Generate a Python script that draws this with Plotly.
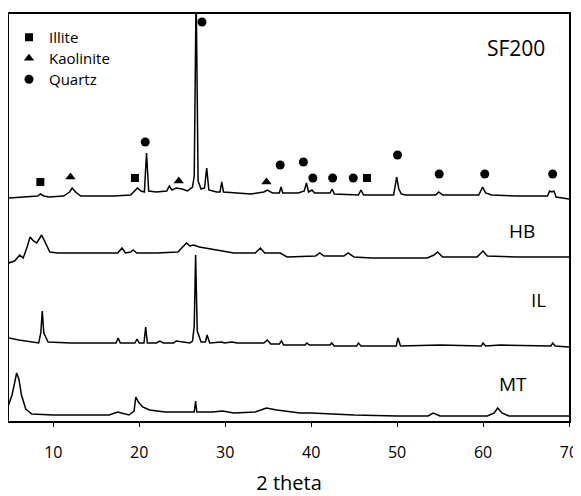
import plotly.graph_objects as go

# ---- data (2theta, intensity in arbitrary stacked units) ----
sf200_x = [4.8, 7.5, 8.2, 8.5, 8.9, 9.5, 11.2, 11.9, 12.2, 12.6, 13.2, 15, 17, 19.0, 19.6, 19.8, 20.2, 20.6, 20.85, 21.1,
           22, 23.2, 23.5, 23.8, 24.3, 25.0, 25.6, 26.2, 26.4, 26.62, 26.85, 27.2, 27.6, 27.85, 28.1, 29.0, 29.4, 29.6, 29.8,
           31, 33, 34.5, 34.9, 35.5, 36.3, 36.5, 36.7, 38.5, 39.2, 39.45, 39.7, 40.1, 40.4, 42.2, 42.45, 42.7, 45.5, 45.8,
           46.1, 49.6, 49.95, 50.2, 50.5, 51, 54.5, 54.85, 55.3, 59.5, 59.95, 60.3, 61, 64, 67.5, 67.75, 68.0, 68.25, 68.5, 70]
sf200_y = [223, 224, 225, 227, 225, 224, 225, 229, 233, 229, 225, 225, 225, 226, 232, 233, 230, 229, 268, 230,
           229, 230, 235, 231, 233, 232, 230, 234, 245, 430, 240, 232, 233, 253, 231, 229, 229, 239, 229,
           228, 227, 229, 231, 228, 228, 234, 228, 228, 230, 238, 229, 231, 228, 228, 232, 227, 226, 231,
           226, 226, 244, 232, 227, 226, 226, 229, 226, 226, 234, 228, 226, 225, 225, 230, 229, 230, 224, 222]

hb_x = [4.8, 5.5, 6.1, 6.5, 7.0, 7.3, 7.7, 8.07, 8.65, 9.1, 9.6, 10.5, 14, 17.5, 18.0, 18.4, 19.0, 19.3, 19.7, 22,
        24.5, 25.2, 25.5, 25.9, 26.3, 27, 29, 31, 33.5, 34.1, 34.6, 36.4, 37.2, 40.5, 41.0, 41.5, 43.8, 44.3, 45,
        47, 53.5, 54.3, 54.7, 55.3, 59.3, 60.0, 60.5, 64, 70]
hb_y = [158, 160, 166, 163, 175, 184, 180, 178, 186, 178, 169, 168, 168, 168, 173, 168, 169, 171, 168, 168,
        169, 175, 178, 175, 176, 174, 171, 168, 168, 173, 168, 168, 164, 165, 168, 165, 165, 168, 164,
        163, 163, 166, 169, 164, 164, 170, 165, 164, 164]

il_x = [4.8, 6, 8.3, 8.55, 8.72, 8.9, 9.4, 12, 17.3, 17.55, 17.8, 19.5, 19.75, 20.0, 20.55, 20.75, 20.95, 22, 22.4, 22.8,
        24.0, 24.3, 25.9, 26.2, 26.4, 26.56, 26.75, 27.2, 27.7, 27.9, 28.2, 29.6, 29.9, 30.8, 31.4, 34.5, 34.9, 35.3,
        36.3, 36.55, 36.8, 39.3, 39.5, 39.8, 42.2, 42.4, 42.7, 45.3, 45.5, 45.8, 49.9, 50.1, 50.4, 55.0, 59.8, 60.0,
        60.3, 62.0, 67.9, 68.1, 68.4, 70]
il_y = [83, 81, 78, 88, 110, 88, 79, 78, 78, 83, 78, 78, 82, 78, 78, 94, 78, 78, 80, 78,
        78, 80, 78, 80, 95, 166, 90, 79, 79, 86, 78, 79, 78, 79, 78, 78, 81, 77,
        77, 80, 76, 76, 78, 76, 76, 78, 75, 75, 78, 75, 75, 83, 75, 76, 75, 78,
        75, 76, 75, 78, 75, 74]

mt_x = [4.8, 5.2, 5.5, 5.74, 6.0, 6.3, 6.8, 7.5, 10, 16.5, 17.5, 18.3, 18.8, 19.4, 19.6, 19.9, 20.4, 21.2, 23, 26.4,
        26.56, 26.7, 28.5, 29.7, 31, 33.5, 34.4, 34.8, 36, 38.7, 40, 45, 50, 53.6, 54.2, 55, 60.5, 61.3, 61.7,
        62.2, 63, 70]
mt_y = [16, 26, 38, 48, 42, 26, 12, 7, 6, 6, 9, 7, 6, 10, 24, 19, 14, 11, 9, 9,
        20, 9, 9, 10, 8, 9, 12, 13, 11, 8, 8, 6, 5, 5, 8, 5, 5, 8, 13,
        8, 5, 5]

# phase markers on SF200
illite_x = [8.5, 19.5, 46.5]
illite_y = [239, 243, 243]
kaolinite_x = [12.0, 24.6, 34.8]
kaolinite_y = [244, 240, 239]
quartz_x = [20.7, 27.3, 36.4, 39.1, 40.2, 42.5, 44.9, 50.05, 54.9, 60.2, 68.1]
quartz_y = [279, 399, 256, 259, 243, 243, 243, 266, 247, 247, 247]

sample_labels = ["SF200", "HB", "IL", "MT"]
label_x = [67.4, 66.3, 67.5, 65.4]
label_y = [373, 190, 121, 37]
label_size = [21, 19, 19, 19]

x_ticks = [10, 20, 30, 40, 50, 60, 70]

FONT = "Open Sans"
fig = go.Figure()
for xs, ys in [(sf200_x, sf200_y), (hb_x, hb_y), (il_x, il_y), (mt_x, mt_y)]:
    fig.add_trace(go.Scatter(x=xs, y=ys, mode="lines", line=dict(color="black", width=1.5),
                             showlegend=False, hoverinfo="skip"))

fig.add_trace(go.Scatter(x=illite_x, y=illite_y, mode="markers", name="Illite", legend="legend",
                         marker=dict(symbol="square", size=8, color="black")))
fig.add_trace(go.Scatter(x=kaolinite_x, y=kaolinite_y, mode="markers", name="Kaolinite", legend="legend2",
                         marker=dict(symbol="triangle-up", size=9, color="black")))
fig.add_trace(go.Scatter(x=quartz_x, y=quartz_y, mode="markers", name="Quartz", legend="legend3",
                         marker=dict(symbol="circle", size=9, color="black")))

for t, lx, ly, ls in zip(sample_labels, label_x, label_y, label_size):
    fig.add_annotation(x=lx, y=ly, text=t, showarrow=False, xanchor="right", yanchor="middle",
                       font=dict(family=FONT, size=ls, color="black"))

leg_common = dict(x=0.0, xanchor="left", yanchor="middle", bgcolor="rgba(0,0,0,0)",
                  font=dict(family=FONT, size=15, color="black"), itemwidth=30)

fig.update_layout(
    width=573, height=488,
    margin=dict(l=1, r=12, t=6, b=75),
    paper_bgcolor="white", plot_bgcolor="white",
    font=dict(family=FONT, color="black"),
    legend=dict(y=0.9423, **leg_common),
    legend2=dict(y=0.8907, **leg_common),
    legend3=dict(y=0.8391, **leg_common),
    xaxis=dict(range=[4.85, 70], tickvals=x_ticks, ticks="outside", ticklen=4, tickwidth=1.2,
               tickcolor="black", showline=True, linecolor="black", linewidth=1.5, mirror=True,
               showgrid=False, zeroline=False, tickfont=dict(family=FONT, size=16),
               ticklabelstandoff=12, automargin=False, ticklabeloverflow="allow",
               title=dict(text="2 theta", font=dict(family=FONT, size=20), standoff=19)),
    yaxis=dict(range=[0, 407], showticklabels=False, ticks="", showline=True, linecolor="black",
               linewidth=1.5, mirror=True, showgrid=False, zeroline=False, automargin=False),
)

fig.write_html("out.html")
